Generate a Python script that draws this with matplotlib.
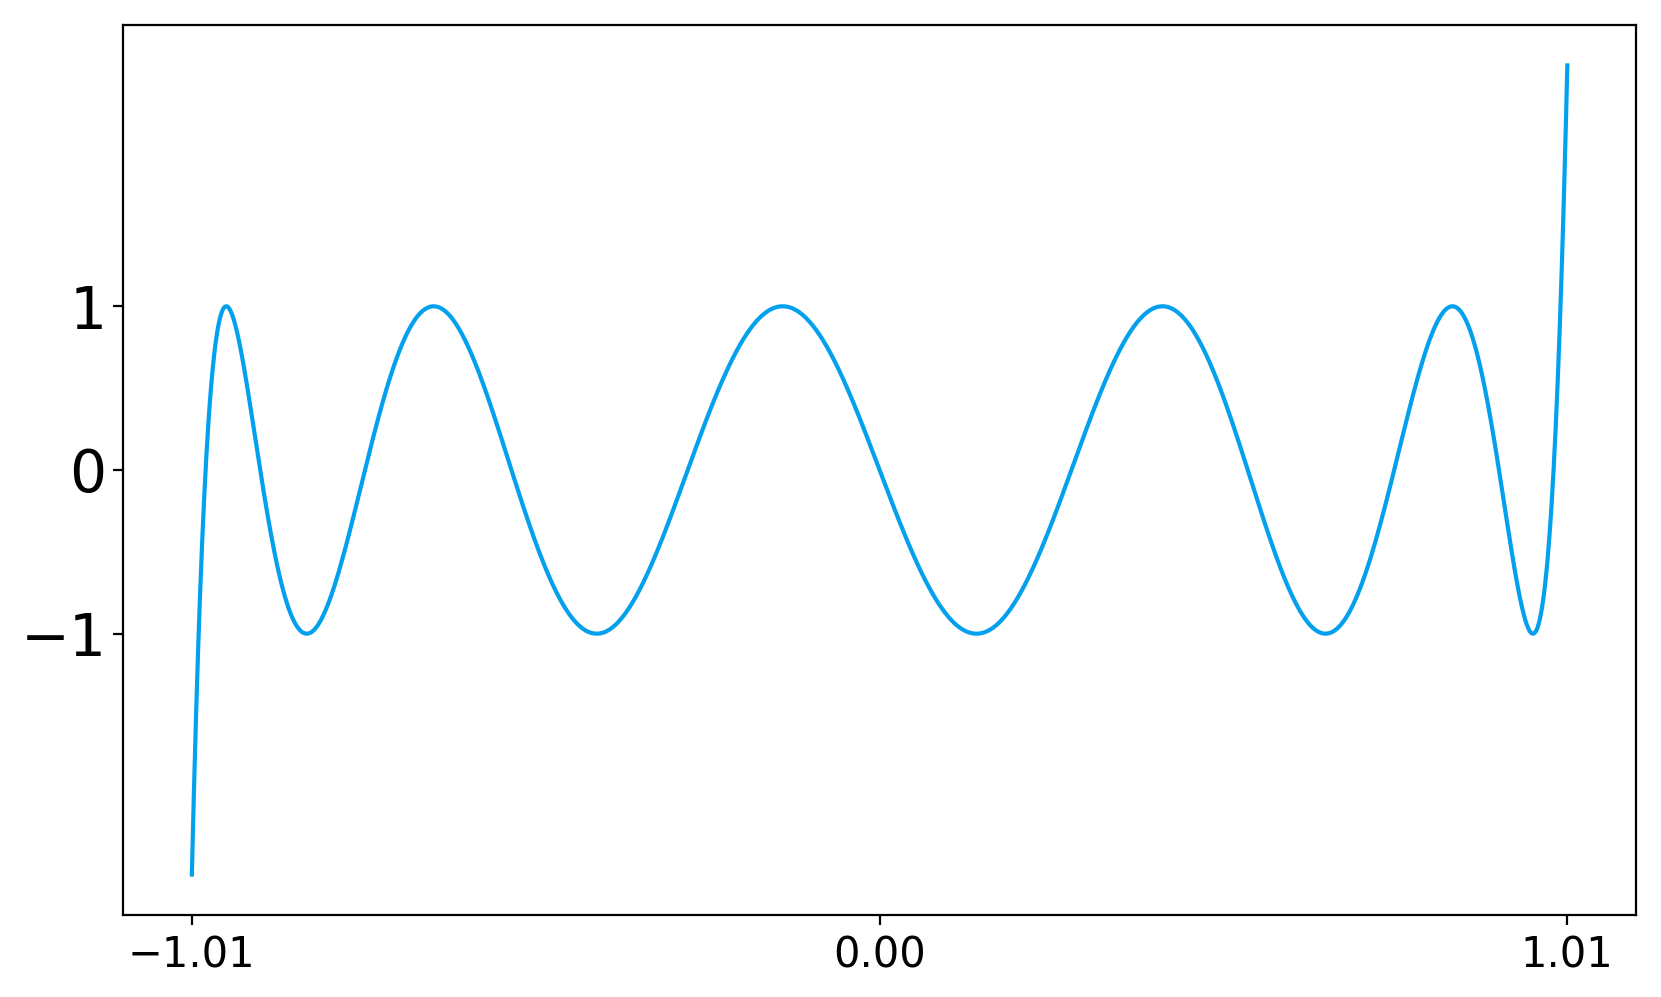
import matplotlib

matplotlib.use("Agg")
import matplotlib.pyplot as plt
import numpy as np
from numpy.polynomial import chebyshev as C

# Chebyshev series: the curve is T_11 evaluated just past [-1, 1]
CHEB_COEFFS = [0, 0, 0, 0, 0, 0, 0, 0, 0, 0, 0, 1]
X_RANGE = [-1.01, 1.01]
X_TICKS = [-1.01, 0.00, 1.01]
X_TICK_LABELS = ["\u22121.01", "0.00", "1.01"]
Y_TICKS = [-1, 0, 1]
Y_TICK_LABELS = ["\u22121", "0", "1"]

LINE_COLOR = "#03a0ee"

x = np.linspace(X_RANGE[0], X_RANGE[1], 2000)
y = C.chebval(x, CHEB_COEFFS)

fig = plt.figure(figsize=(8.305, 4.985), dpi=200)
ax = fig.add_axes([0.0741, 0.0822, 0.9109, 0.8928])
ax.plot(x, y, color=LINE_COLOR, linewidth=1.5)

ax.set_xticks(X_TICKS)
ax.set_xticklabels(X_TICK_LABELS, fontsize=15)
ax.set_yticks(Y_TICKS)
ax.set_yticklabels(Y_TICK_LABELS, fontsize=21)
ax.tick_params(axis="y", pad=2.5)

fig.savefig("out.png", dpi=200)
plt.close(fig)
